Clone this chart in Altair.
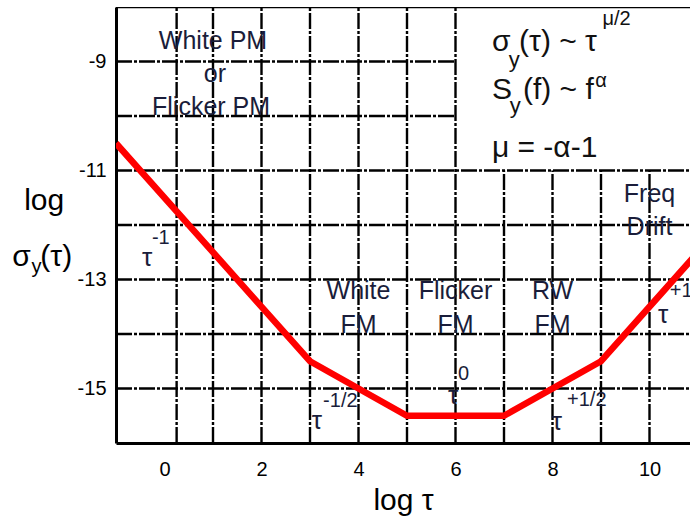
import altair as alt
import pandas as pd

# --- data ---
curve_x = [-1, 3, 5, 7, 9, 11]
curve_y = [-10.5, -14.5, -15.5, -15.5, -14.5, -12.5]

x_ticks = [0, 2, 4, 6, 8, 10]
y_ticks = [-9, -11, -13, -15]

vgrid_x = [0.25, 1, 2, 3, 4, 5, 6, 7, 8, 9, 10]
vgrid_top = [-8, -8, -8, -8, -8, -8, -8, -11, -11, -11, -11]
hgrid_y = [-9, -10, -11, -12, -13, -14, -15]
hgrid_right = [6, 6, 12, 12, 12, 12, 12]

region_text = ["White PM", "or", "Flicker PM", "Freq", "Drift",
               "White", "FM", "Flicker", "FM", "RW", "FM"]
region_x = [1.0, 1.04, 0.96, 10.0, 10.0, 4, 4, 6, 6, 8, 8]
region_y = [-8.62, -9.23, -9.83, -11.43, -12.04,
            -13.21, -13.83, -13.21, -13.83, -13.21, -13.83]

tau_x = [-0.36, 3.14, 5.95, 8.09, 10.28]
tau_y = [-12.61, -15.60, -15.14, -15.61, -13.65]
exp_text = ["-1", "-1/2", "0", "+1/2", "+1"]
exp_x = [-0.26, 3.27, 6.05, 8.30, 10.42]
exp_y = [-12.24, -15.23, -14.73, -15.21, -13.21]

eq_text = ["σ", "(τ) ~ τ", "S", "(f) ~ f", "μ = -α-1"]
eq_x = [6.75, 7.31, 6.75, 7.39, 6.75]
eq_y = [-8.64, -8.64, -9.52, -9.52, -10.59]
eq_sub_text = ["y", "y"]
eq_sub_x = [7.10, 7.12]
eq_sub_y = [-8.97, -9.82]
eq_sup_text = ["μ/2", "α"]
eq_sup_x = [9.03, 8.88]
eq_sup_y = [-8.22, -9.36]

ytitle_text = ["σ", "(τ)"]
ytitle_x = [-3.14, -2.56]
ytitle_y = [-12.59, -12.59]

FONT = "Liberation Sans"
NAVY = "#1a1d3a"

xs = alt.Scale(domain=[-1, 10.835], nice=False, zero=False)
ys = alt.Scale(domain=[-16, -8], nice=False, zero=False)
x_axis = alt.Axis(values=x_ticks, title="log τ", labelFontSize=20, labelFont=FONT,
                  labelExpr="'' + datum.value",
                  ticks=False, tickSize=0, grid=False, domainColor="black", domainWidth=3,
                  labelPadding=16, labelColor="black", titleColor="black",
                  titleFont=FONT, titleFontSize=30, titleFontWeight="normal",
                  titlePadding=6, labelFlush=False)
y_axis = alt.Axis(values=y_ticks, title=None, labelFontSize=20, labelFont=FONT,
                  labelExpr="'' + datum.value",
                  ticks=False, tickSize=0, grid=False, domainColor="black", domainWidth=3,
                  labelPadding=10, labelColor="black", labelFlush=False)

X = alt.X("x:Q", scale=xs, axis=x_axis)
Y = alt.Y("y:Q", scale=ys, axis=y_axis)

vgrid = pd.DataFrame({"x": vgrid_x, "y": [-16] * len(vgrid_x), "y2": vgrid_top})
hgrid = pd.DataFrame({"y": hgrid_y, "x": [-1] * len(hgrid_y), "x2": hgrid_right})
top = pd.DataFrame({"y": [-8], "x": [-1], "x2": [12]})
curve = pd.DataFrame({"x": curve_x, "y": curve_y})

dash = [16, 2, 3, 2]
vlayer = alt.Chart(vgrid).mark_rule(color="black", strokeWidth=2.4, strokeDash=dash, clip=True).encode(
    x=X, y=Y, y2="y2:Q")
hlayer = alt.Chart(hgrid).mark_rule(color="black", strokeWidth=2.4, strokeDash=dash, clip=True).encode(
    y=Y, x=X, x2="x2:Q")
toplayer = alt.Chart(top).mark_rule(color="black", strokeWidth=2.5, clip=True).encode(
    y=Y, x=X, x2="x2:Q")
line = alt.Chart(curve).mark_line(color="#ff0000", strokeWidth=6.5, clip=True,
                                  strokeJoin="miter").encode(x=X, y=Y)


def texts(t, x, y, size, align, color, font=FONT):
    df = pd.DataFrame({"t": t, "x": x, "y": y})
    return alt.Chart(df).mark_text(align=align, baseline="middle", fontSize=size,
                                   font=font, color=color).encode(x=X, y=Y, text="t:N")


regions = texts(region_text, region_x, region_y, 25, "center", NAVY)
taus = texts(["τ"] * len(tau_x), tau_x, tau_y, 26, "center", NAVY)
exps = texts(exp_text, exp_x, exp_y, 20, "left", NAVY)
eqs = texts(eq_text, eq_x, eq_y, 30, "left", "#111111")
eq_sub = texts(eq_sub_text, eq_sub_x, eq_sub_y, 22, "left", "#111111")
eq_sup = texts(eq_sup_text, eq_sup_x, eq_sup_y, 20, "left", "#111111")
ylog = texts(["log"], [-2.48], [-11.56], 30, "center", "black")
ytitle = texts(ytitle_text, ytitle_x, ytitle_y, 30, "left", "black")
ysub = texts(["y"], [-2.74], [-12.77], 20, "left", "black")

chart = alt.layer(vlayer, hlayer, toplayer, regions, taus, exps, eqs, eq_sub, eq_sup,
                  ylog, ytitle, ysub, line).properties(
    width=574, height=436,
    padding={"left": 116, "top": 7, "right": 0, "bottom": 77},
    autosize=alt.AutoSizeParams(type="none"),
    background="white",
).configure_view(strokeWidth=0)

chart.save("out.html", embed_options={"renderer": "svg", "actions": False})
